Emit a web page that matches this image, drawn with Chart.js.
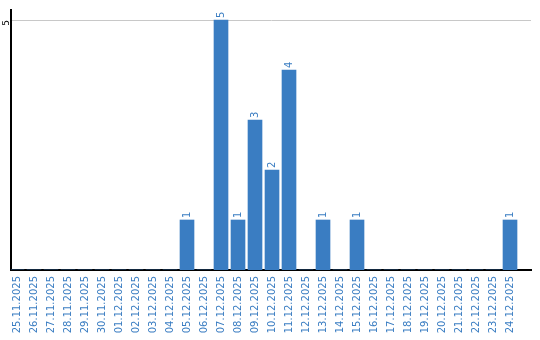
<!DOCTYPE html>
<html>
<head>
<meta charset="utf-8">
<script src="https://cdn.jsdelivr.net/npm/chart.js@4"></script>
<style>
  html, body { margin: 0; padding: 0; background: #fff; }
</style>
</head>
<body>
<canvas id="countChart" width="540" height="340"></canvas>
<script>
// days shown on the x axis
const days = [
  '25.11.2025', '26.11.2025', '27.11.2025', '28.11.2025', '29.11.2025', '30.11.2025',
  '01.12.2025', '02.12.2025', '03.12.2025', '04.12.2025', '05.12.2025', '06.12.2025',
  '07.12.2025', '08.12.2025', '09.12.2025', '10.12.2025', '11.12.2025', '12.12.2025',
  '13.12.2025', '14.12.2025', '15.12.2025', '16.12.2025', '17.12.2025', '18.12.2025',
  '19.12.2025', '20.12.2025', '21.12.2025', '22.12.2025', '23.12.2025', '24.12.2025'
];
// count per day
const counts = [0, 0, 0, 0, 0, 0, 0, 0, 0, 0, 1, 0, 5, 1, 3, 2, 4, 0, 1, 0, 1, 0, 0, 0, 0, 0, 0, 0, 0, 1];
const yTicks = [5];

const blue = '#3a7dc2';
const font = { family: 'DejaVu Sans', size: 10 };

// draws the rotated value above each bar
const valueLabels = {
  id: 'valueLabels',
  afterDatasetsDraw(chart) {
    const ctx = chart.ctx;
    const meta = chart.getDatasetMeta(0);
    ctx.save();
    ctx.fillStyle = blue;
    ctx.font = font.size + 'px ' + font.family;
    ctx.textAlign = 'left';
    ctx.textBaseline = 'middle';
    meta.data.forEach((bar, i) => {
      if (!counts[i]) return;
      ctx.save();
      ctx.translate(bar.x, bar.y - 2);
      ctx.rotate(-Math.PI / 2);
      ctx.fillText(String(counts[i]), 0, 0);
      ctx.restore();
    });
    ctx.restore();
  }
};

const ctx = document.getElementById('countChart').getContext('2d');
new Chart(ctx, {
  type: 'bar',
  data: {
    datasets: [{
      data: counts.map((v, i) => ({ x: i, y: v })),
      backgroundColor: blue,
      borderWidth: 0,
      barThickness: 14
    }]
  },
  options: {
    responsive: false,
    animation: false,
    layout: { padding: { top: 10, right: 9, left: 0, bottom: 0 } },
    plugins: { legend: { display: false }, tooltip: { enabled: false } },
    scales: {
      x: {
        type: 'linear',
        offset: false,
        min: -0.353,
        max: 30.235,
        afterBuildTicks: s => { s.ticks = days.map((_, i) => ({ value: i })); },
        afterFit: s => { s.height = 70; s.paddingLeft = 0; s.paddingRight = 0; },
        grid: { display: false, drawTicks: false, offset: false },
        border: { display: true, color: '#000', width: 2 },
        ticks: {
          autoSkip: false,
          minRotation: 90,
          maxRotation: 90,
          padding: 6,
          color: blue,
          font: font,
          callback: v => days[v]
        }
      },
      y: {
        min: 0,
        max: 5.2,
        afterBuildTicks: s => { s.ticks = yTicks.map(v => ({ value: v })); },
        afterFit: s => { s.width = 11; },
        grid: { color: '#c8c8c8', drawTicks: false },
        border: { display: true, color: '#000', width: 2 },
        ticks: {
          minRotation: 90,
          maxRotation: 90,
          padding: 4,
          color: '#000',
          font: { family: 'DejaVu Sans', size: 9 }
        }
      }
    }
  },
  plugins: [valueLabels]
});
</script>
</body>
</html>
